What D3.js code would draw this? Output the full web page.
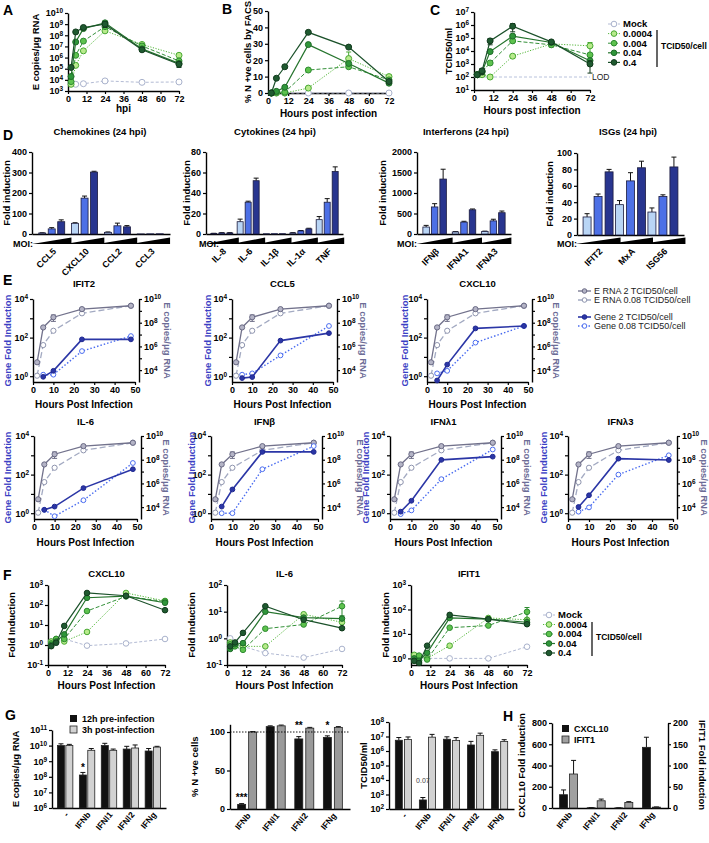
<!DOCTYPE html>
<html><head><meta charset="utf-8">
<script src="https://cdn.jsdelivr.net/npm/d3@7"></script>
<style>body{margin:0;background:#fff}svg{display:block}</style>
</head><body>
<svg id="c" width="709" height="843"></svg>
<script>
// ================= DATA =================
const hpi = [2, 5, 10, 24, 48, 72];
const moiLabels = ["Mock", "0.0004", "0.004", "0.04", "0.4"];
const xTicks72 = [0, 12, 24, 36, 48, 60, 72];
// A: E copies/ug RNA
const aMock = [5e3, 4e3, 4.5e3, 8e3, 6e3, 6.5e3];
const a00004 = [4e3, 2e5, 4e6, 2.5e8, 1.5e7, 1.6e6];
const a0004 = [7e3, 1.6e6, 3e7, 6e8, 1.1e7, 5e5];
const a004 = [2e4, 2.5e7, 4e8, 1.3e9, 6e6, 3e5];
const a04 = [1.3e5, 2e8, 5e8, 1e9, 5e6, 2.5e5];
const aErr04 = [0, 0, 1.5e8, 5e8, 0, 1.2e5];
// B: % N +ve cells
const bMock = [0, 0, 0, 0, 0, 0];
const b00004 = [0, 0, 0, 3, 21, 10];
const b0004 = [0, 0.5, 0.5, 14, 16, 8];
const b004 = [0, 1, 3.5, 29.5, 18, 6];
const b04 = [0, 9, 16, 37, 28, 7];
const bErr00004 = [0, 0, 0, 0, 4, 1];
// C: TCID50/ml
const cLOD = 100;
const c00004 = [150, 150, 100, 4e3, 3.5e4, 2.5e4];
const c0004 = [150, 250, 1.2e3, 6e4, 3e4, 5e3];
const c004 = [150, 250, 9e3, 1.4e5, 4.5e4, 1.8e3];
const c04 = [150, 300, 6e4, 8e5, 5e4, 1e3];
const cErr04 = [0, 150, 3e4, 5e5, 1.5e4, 800];
const cErr00004 = [0, 0, 0, 1e3, 1.5e4, 2e4];
// D: fold induction at 24 hpi (low, mid, high MOI)
const chemoCats = ["CCL5", "CXCL10", "CCL2", "CCL3"];
const chemoLow = [5, 52, 8, 0.5], chemoMid = [25, 175, 40, 0.8], chemoHigh = [60, 302, 35, 1];
const chemoErrLow = [1, 3, 2, 0], chemoErrMid = [6, 10, 13, 0], chemoErrHigh = [9, 4, 6, 0];
const cytoCats = ["IL-8", "IL-6", "IL-1β", "IL-1α", "TNF"];
const cytoLow = [0.5, 12, 0.3, 1, 14], cytoMid = [1, 31, 0.3, 3, 31], cytoHigh = [1, 52, 0.3, 5, 61];
const cytoErrLow = [0.2, 2.5, 0, 0.3, 3], cytoErrMid = [0.3, 1, 0, 0.4, 3.5], cytoErrHigh = [0.3, 2.5, 0, 0.6, 4.5];
const ifnCats = ["IFNβ", "IFNA1", "IFNA3"];
const ifnLow = [170, 50, 60], ifnMid = [660, 290, 320], ifnHigh = [1340, 590, 520];
const ifnErrLow = [40, 8, 10], ifnErrMid = [80, 20, 40], ifnErrHigh = [240, 20, 40];
const isgCats = ["IFIT2", "MxA", "ISG56"];
const isgLow = [22, 37, 28], isgMid = [47, 66, 47], isgHigh = [77, 82, 83];
const isgErrLow = [4, 5, 5], isgErrMid = [3, 10, 2], isgErrHigh = [3, 8, 12];
// E: time courses
const eTimes = [2, 5, 10, 24, 48];
const eRna2 = [4.6e4, 4e7, 2.9e8, 1.4e9, 2.7e9];
const eRna008 = [3.4e3, 1.3e6, 2.1e7, 6.2e8, 2.7e9];
const eRna2Err = [0, 0, 1.6e8, 3e8, 0];
const geneTimes = [5, 10, 24, 48];
const ifit2Gene2 = [0.93, 1.9, 81, 81], ifit2Gene008 = [1.2, 1.2, 20, 120];
const ccl5Gene2 = [0.8, 0.9, 70, 170], ccl5Gene008 = [1.2, 1.4, 12, 400];
const cxcl10Gene2 = [0.6, 4, 300, 400], cxcl10Gene008 = [1.4, 1.9, 55, 400];
const il6Gene2 = [1.5, 2.2, 20, 190], il6Gene008 = [1.5, 0.7, 4.7, 400];
const ifnbGene2 = [2.2, 17, 1500, 1500], ifnbGene008 = [1, 1, 190, 3000];
const ifnl1Gene2 = [1.2, 4.4, 580, 850], ifnl1Gene008 = [0.9, 1.4, 58, 2000];
const ifnl3Gene2 = [2.1, 8.5, 670, 570], ifnl3Gene008 = [1.2, 2, 100, 1000];
const eLegend = ["E RNA  2 TCID50/cell", "E RNA  0.08 TCID50/cell", "Gene  2 TCID50/cell", "Gene 0.08 TCID50/cell"];
// F: fold induction time courses
const fCxMock = [1.5, 1.3, 2, 0.93, 1.2, 2];
const fCx00004 = [1.5, 2, 1.5, 4.5, 400, 160];
const fCx0004 = [1.2, 2, 2, 50, 270, 150];
const fCx004 = [1, 1.5, 3.4, 230, 280, 130];
const fCx04 = [0.87, 1.3, 9, 400, 290, 55];
const fIl6Mock = [1.0, 0.6, 0.5, 0.28, 0.19, 0.4];
const fIl600004 = [0.7, 0.6, 0.5, 0.5, 8, 4];
const fIl60004 = [0.6, 0.5, 0.37, 2.3, 3.3, 16];
const fIl6004 = [0.4, 0.6, 0.66, 10, 6, 5.5];
const fIl604 = [0.5, 0.7, 1.6, 16, 5, 2.4];
const fIfMock = [1, 1, 1, 1, 1, 3];
const fIf00004 = [1.4, 1.2, 1.0, 3.3, 45, 38];
const fIf0004 = [0.8, 1.3, 0.9, 18, 22, 80];
const fIf004 = [1.0, 0.8, 1.7, 45, 40, 30];
const fIf04 = [0.8, 0.65, 3.3, 60, 40, 25];
// G / H
const gCats = ["-", "IFNb", "IFNl1", "IFNl2", "IFNg"];
const gEPre = [1e10, 1.3e8, 1e10, 6e9, 4.5e9], gEPost = [1e10, 5e9, 5e9, 7e9, 8e9];
const gEPreErr = [3e9, 6e7, 4e9, 3e9, 2e9], gEPostErr = [2e9, 1.5e9, 1e9, 4e9, 1e9];
const gNCats = ["IFNb", "IFNl1", "IFNl2", "IFNg"];
const gNPre = [6, 107, 91, 93], gNPost = [100, 108, 105, 106];
const gNPreErr = [1, 1, 3, 2], gNPostErr = [0.5, 1, 1, 1];
const gTPre = [5.5e6, 420, 6.5e6, 2.6e6, 9e5], gTPost = [6.3e6, 9e6, 5.4e6, 1.2e7, 4.5e6];
const gTPreErr = [3e6, 200, 3e6, 2e6, 3e5], gTPostErr = [3e6, 5e6, 3e6, 5e6, 1.5e6];
const hCats = ["IFNb", "IFNl1", "IFNl2", "IFNg"];
const hCxcl10 = [125, 2, 1, 571], hIfit1 = [80, 17, 13, 2];
const hCxErr = [45, 2, 1, 95], hIfErr = [32, 4, 2, 0.5];

// ================= DRAWING =================
const F = "'Liberation Sans', Arial, Helvetica, sans-serif";
const svg = d3.select('#c');

function txt(g, x, y, s, o = {}) {
  const t = g.append('text').attr('x', x).attr('y', y).text(s)
    .attr('font-family', F).attr('font-size', o.size || 9).attr('font-weight', o.weight || 'bold')
    .attr('fill', o.fill || '#000').attr('text-anchor', o.anchor || 'middle');
  if (o.rot != null) t.attr('transform', `rotate(${o.rot},${x},${y})`);
  return t;
}
function styleAxis(ax, fs) {
  ax.select('.domain').attr('stroke', '#000').attr('stroke-width', 1.4);
  ax.selectAll('.tick line').attr('stroke', '#000').attr('stroke-width', 1.2);
  ax.selectAll('.tick text').attr('font-family', F).attr('font-weight', 'bold').attr('font-size', fs || 9).attr('fill', '#000');
}
function supify(ax, keep) {
  ax.selectAll('.tick text').each(function (d) {
    const t = d3.select(this); const e = Math.round(Math.log10(d));
    t.text(null);
    if (keep && !keep(e)) return;
    t.append('tspan').text('10');
    t.append('tspan').attr('dy', '-0.45em').attr('font-size', '0.72em').text(e);
  });
}
function letter(x, y, s) { txt(svg, x, y, s, { size: 14, anchor: 'start' }); }

const styles = {
  "Mock":   { line: '#b3bbd4', dash: '3,2', fill: '#fff', stroke: '#a9b2cc', lw: 1 },
  "0.0004": { line: '#56b83c', dash: '1.2,1.5', fill: '#b8ea8c', stroke: '#48a832', lw: 1 },
  "0.004":  { line: '#35913a', dash: '4,2', fill: '#5ec24e', stroke: '#2d8a30', lw: 1 },
  "0.04":   { line: '#26752e', dash: null, fill: '#2f963a', stroke: '#1f6b28', lw: 1.2 },
  "0.4":    { line: '#1b512a', dash: null, fill: '#1f5a30', stroke: '#123a1d', lw: 1.2 }
};
const eStyles = [
  { line: '#72728c', dash: null, fill: '#b4b4c6', stroke: '#6a6a84', lw: 1.3 },
  { line: '#a3aac2', dash: '6,3', fill: '#fff', stroke: '#8e94ae', lw: 1.3 },
  { line: '#2b36a6', dash: null, fill: '#2b36a6', stroke: '#1f2890', lw: 1.6 },
  { line: '#4a6cf0', dash: '1.5,2', fill: '#fff', stroke: '#4a6cf0', lw: 1.4 }
];

function linePanel(c) {
  const g = svg.append('g');
  const x = d3.scaleLinear().domain(c.xd).range([c.x0, c.x1]);
  const y = (c.log ? d3.scaleLog() : d3.scaleLinear()).domain(c.yd).range([c.yb, c.yt]);
  const xa = g.append('g').attr('transform', `translate(0,${c.yb})`)
    .call(d3.axisBottom(x).tickValues(c.xticks).tickSize(3).tickSizeOuter(0).tickPadding(2));
  styleAxis(xa);
  const yAx = d3.axisLeft(y).tickValues(c.yticks).tickSize(3).tickSizeOuter(0).tickPadding(2);
  if (!c.log) yAx.tickFormat(d3.format('d'));
  const ya = g.append('g').attr('transform', `translate(${c.x0},0)`).call(yAx);
  styleAxis(ya);
  if (c.log) supify(ya, c.keep);
  if (c.title) txt(g, (c.x0 + c.x1) / 2, c.titleY, c.title, { size: 9.5 });
  if (c.xTitle) txt(g, (c.x0 + c.x1) / 2, c.xTitleY, c.xTitle, { size: 10 });
  if (c.yTitle) txt(g, c.yTitleX, (c.yt + c.yb) / 2, c.yTitle, { size: 9.5, rot: -90, fill: c.yTitleFill || '#000' });
  return { g, x, y };
}
function drawSeries(p, times, vals, st, errs, r = 3, yScale) {
  const y = yScale || p.y;
  const lo = y.domain()[0];
  const pts = times.map((t, i) => ({ t, v: vals[i], e: errs ? errs[i] : 0 })).filter(d => d.v != null);
  p.g.append('path').datum(pts)
    .attr('d', d3.line().x(d => p.x(d.t)).y(d => y(d.v)))
    .attr('fill', 'none').attr('stroke', st.line).attr('stroke-width', st.lw).attr('stroke-dasharray', st.dash);
  pts.filter(d => d.e).forEach(d => {
    const y1 = y(Math.max(d.v - d.e, lo)), y2 = y(d.v + d.e), cx = p.x(d.t);
    p.g.append('line').attr('x1', cx).attr('x2', cx).attr('y1', y1).attr('y2', y2).attr('stroke', st.stroke).attr('stroke-width', 1);
    [y1, y2].forEach(yy => p.g.append('line').attr('x1', cx - 2.5).attr('x2', cx + 2.5).attr('y1', yy).attr('y2', yy).attr('stroke', st.stroke).attr('stroke-width', 1));
  });
  p.g.selectAll(null).data(pts).enter().append('circle')
    .attr('cx', d => p.x(d.t)).attr('cy', d => y(d.v)).attr('r', r)
    .attr('fill', st.fill).attr('stroke', st.stroke).attr('stroke-width', 1);
}
function moiLegend(mx, tx, y0, dy, lineX, lineY0, lineY1, unitY) {
  moiLabels.forEach((lab, i) => {
    const st = styles[lab], yy = y0 + i * dy;
    svg.append('line').attr('x1', mx - 6).attr('x2', mx + 6).attr('y1', yy).attr('y2', yy)
      .attr('stroke', st.line).attr('stroke-width', st.lw).attr('stroke-dasharray', st.dash);
    svg.append('circle').attr('cx', mx).attr('cy', yy).attr('r', 2.8).attr('fill', st.fill).attr('stroke', st.stroke);
    txt(svg, tx, yy + 3.3, lab, { size: 9.5, anchor: 'start' });
  });
  svg.append('line').attr('x1', lineX).attr('x2', lineX).attr('y1', lineY0).attr('y2', lineY1).attr('stroke', '#000').attr('stroke-width', 1.2);
  txt(svg, lineX + 4, unitY + 3, 'TCID50/cell', { size: 8.5, anchor: 'start' });
}

// ---------- Row 1 ----------
letter(3, 15, 'A'); letter(222, 14, 'B'); letter(430, 15, 'C');
const pA = linePanel({ x0: 68, x1: 179, xd: [0, 72], xticks: xTicks72, yt: 13, yb: 91, yd: [1e3, 1e10], log: true,
  yticks: d3.range(3, 11).map(e => 10 ** e), xTitle: 'hpi', xTitleY: 112, yTitle: 'E copies/μg RNA', yTitleX: 38.5 });
const aSeries = [aMock, a00004, a0004, a004, a04];
const aErrs = [null, null, null, null, aErr04];
aSeries.forEach((v, i) => drawSeries(pA, hpi, v, styles[moiLabels[i]], aErrs[i]));

const pB = linePanel({ x0: 268, x1: 389, xd: [0, 72], xticks: xTicks72, yt: 11, yb: 93, yd: [0, 50], log: false,
  yticks: [0, 10, 20, 30, 40, 50], xTitle: 'Hours post infection', xTitleY: 117, yTitle: '% N +ve cells by FACS', yTitleX: 251 });
const bSeries = [bMock, b00004, b0004, b004, b04];
const bErrs = [null, bErr00004, null, null, null];
bSeries.forEach((v, i) => drawSeries(pB, hpi, v, styles[moiLabels[i]], bErrs[i]));

const pC = linePanel({ x0: 474, x1: 590, xd: [0, 72], xticks: xTicks72, yt: 12, yb: 90, yd: [10, 1e7], log: true,
  yticks: d3.range(1, 8).map(e => 10 ** e), xTitle: 'Hours post infection', xTitleY: 114, yTitle: 'TCID50/ml', yTitleX: 452 });
pC.g.append('line').attr('x1', pC.x(0)).attr('x2', pC.x(72)).attr('y1', pC.y(cLOD)).attr('y2', pC.y(cLOD))
  .attr('stroke', '#b8c2dc').attr('stroke-width', 1).attr('stroke-dasharray', '3,2');
txt(pC.g, pC.x(72) + 2, pC.y(cLOD) + 3, 'LOD', { size: 8.5, anchor: 'start', weight: 'normal', fill: '#222' });
const cSeries = [c00004, c0004, c004, c04];
const cErrs = [cErr00004, null, null, cErr04];
cSeries.forEach((v, i) => drawSeries(pC, hpi, v, styles[moiLabels[i + 1]], cErrs[i]));
moiLegend(614, 623, 24, 9.6, 657, 30, 67, 46);

// ---------- Row D ----------
letter(3, 140, 'D');
const barCols = ['#b9d5f5', '#4d70e6', '#28358f'];
function barPanel(c) {
  const g = svg.append('g');
  const xb = d3.scaleBand().domain(c.cats).range([c.x0, c.x1]).paddingInner(0).paddingOuter(c.po);
  const y = d3.scaleLinear().domain(c.yd).range([c.yb, c.yt]);
  const ya = g.append('g').attr('transform', `translate(${c.x0},0)`)
    .call(d3.axisLeft(y).tickValues(c.yticks).tickSize(3).tickSizeOuter(0).tickPadding(2).tickFormat(d3.format('d')));
  styleAxis(ya);
  const xa = g.append('g').attr('transform', `translate(0,${c.yb})`)
    .call(d3.axisBottom(xb).tickSize(0).tickSizeOuter(0).tickFormat(''));
  styleAxis(xa);
  c.series.forEach((vals, j) => {
    c.cats.forEach((cat, i) => {
      const cx = xb(cat) + xb.bandwidth() / 2 + (j - 1) * c.step;
      const v = vals[i], e = c.errs[j][i];
      if (e) {
        g.append('line').attr('x1', cx).attr('x2', cx).attr('y1', y(v)).attr('y2', y(v + e)).attr('stroke', '#111').attr('stroke-width', 1);
        g.append('line').attr('x1', cx - 2.5).attr('x2', cx + 2.5).attr('y1', y(v + e)).attr('y2', y(v + e)).attr('stroke', '#111').attr('stroke-width', 1);
      }
      g.append('rect').attr('x', cx - c.w / 2).attr('y', y(v)).attr('width', c.w).attr('height', c.yb - y(v))
        .attr('fill', barCols[j]).attr('stroke', '#1b1b3d').attr('stroke-width', 0.8);
    });
  });
  // MOI wedges
  txt(g, c.moiX, 247, 'MOI:', { size: 9, anchor: 'end' });
  c.cats.forEach(cat => {
    const cx = xb(cat) + xb.bandwidth() / 2, half = c.step * 1.5 + c.w / 2 + 2;
    g.append('path').attr('d', `M${cx - half},244 L${cx + half},237.5 L${cx + half},244 Z`).attr('fill', '#000');
    txt(g, cx + 5, 252, cat, { size: 9, anchor: 'end', rot: -45 });
  });
  txt(g, c.titleX, 135, c.title, { size: 9.5 });
  txt(g, c.yTitleX, (c.yt + c.yb) / 2, 'Fold induction', { size: 9.5, rot: -90 });
}
barPanel({ cats: chemoCats, x0: 32, x1: 170, po: 0.1, yt: 152, yb: 234, yd: [0, 400], yticks: [0, 100, 200, 300, 400],
  series: [chemoLow, chemoMid, chemoHigh], errs: [chemoErrLow, chemoErrMid, chemoErrHigh], w: 7, step: 9.5,
  moiX: 33, title: 'Chemokines (24 hpi)', titleX: 100, yTitleX: 10 });
barPanel({ cats: cytoCats, x0: 206, x1: 343, po: 0.1, yt: 152, yb: 234, yd: [0, 80], yticks: [0, 20, 40, 60, 80],
  series: [cytoLow, cytoMid, cytoHigh], errs: [cytoErrLow, cytoErrMid, cytoErrHigh], w: 6, step: 8,
  moiX: 219, title: 'Cytokines (24 hpi)', titleX: 275, yTitleX: 190 });
barPanel({ cats: ifnCats, x0: 417, x1: 511, po: 0.1, yt: 152, yb: 234, yd: [0, 2000], yticks: [0, 500, 1000, 1500, 2000],
  series: [ifnLow, ifnMid, ifnHigh], errs: [ifnErrLow, ifnErrMid, ifnErrHigh], w: 6.5, step: 8.5,
  moiX: 417, title: 'Interferons (24 hpi)', titleX: 466, yTitleX: 386 });
barPanel({ cats: isgCats, x0: 577, x1: 684, po: 0.15, yt: 153, yb: 235, yd: [0, 100], yticks: [0, 20, 40, 60, 80, 100],
  series: [isgLow, isgMid, isgHigh], errs: [isgErrLow, isgErrMid, isgErrHigh], w: 8, step: 11,
  moiX: 577, title: 'ISGs  (24 hpi)', titleX: 628, yTitleX: 553 });

// ---------- Row E ----------
letter(3, 285, 'E');
function ePanel(c) {
  const p = linePanel({ x0: c.x0, x1: c.x1, xd: [0, 50], xticks: [0, 10, 20, 30, 40, 50], yt: c.yt, yb: c.yb,
    yd: [10 ** -0.3, 1e4], log: true, yticks: [1, 10, 100, 1000, 10000], keep: e => e % 2 === 0,
    title: c.title, titleY: c.titleY, xTitle: 'Hours Post Infection', xTitleY: c.xTitleY,
    yTitle: 'Gene Fold Induction', yTitleX: c.lx, yTitleFill: '#3b3fc4' });
  const yR = d3.scaleLog().domain([1e3, 1e10]).range([c.yb, c.yt]);
  const ra = p.g.append('g').attr('transform', `translate(${c.x1 + 4},0)`)
    .call(d3.axisRight(yR).tickValues(d3.range(4, 11).map(e => 10 ** e)).tickSize(3).tickSizeOuter(0).tickPadding(2));
  styleAxis(ra);
  supify(ra, e => e % 2 === 0);
  txt(p.g, c.rx, (c.yt + c.yb) / 2, 'E copies/μg RNA', { size: 9.5, rot: 90, fill: '#6c6c96' });
  drawSeries(p, eTimes, eRna008, eStyles[1], null, 2.6, yR);
  drawSeries(p, eTimes, eRna2, eStyles[0], eRna2Err, 2.6, yR);
  drawSeries(p, geneTimes, c.g8, eStyles[3], null, 2.4);
  drawSeries(p, geneTimes, c.g2, eStyles[2], null, 2.4);
}
const r1 = { yt: 299, yb: 382, titleY: 287, xTitleY: 408 };
const r2 = { yt: 436, yb: 519, titleY: 425, xTitleY: 546 };
ePanel({ ...r1, x0: 33, x1: 135, title: 'IFIT2', g2: ifit2Gene2, g8: ifit2Gene008, lx: 11, rx: 164 });
ePanel({ ...r1, x0: 232, x1: 333, title: 'CCL5', g2: ccl5Gene2, g8: ccl5Gene008, lx: 211, rx: 360 });
ePanel({ ...r1, x0: 427, x1: 528, title: 'CXCL10', g2: cxcl10Gene2, g8: cxcl10Gene008, lx: 408, rx: 553 });
ePanel({ ...r2, x0: 34, x1: 137, title: 'IL-6', g2: il6Gene2, g8: il6Gene008, lx: 11, rx: 163 });
ePanel({ ...r2, x0: 211, x1: 318, title: 'IFNβ', g2: ifnbGene2, g8: ifnbGene008, lx: 195, rx: 357 });
ePanel({ ...r2, x0: 390, x1: 497, title: 'IFNλ1', g2: ifnl1Gene2, g8: ifnl1Gene008, lx: 369, rx: 524 });
ePanel({ ...r2, x0: 568, x1: 673, title: 'IFNλ3', g2: ifnl3Gene2, g8: ifnl3Gene008, lx: 547, rx: 701 });
// E legend
[291, 300, 317, 326].forEach((yy, i) => {
  const st = eStyles[i];
  svg.append('line').attr('x1', 578).attr('x2', 591).attr('y1', yy).attr('y2', yy).attr('stroke', st.line).attr('stroke-width', st.lw).attr('stroke-dasharray', st.dash);
  svg.append('circle').attr('cx', 584.5).attr('cy', yy).attr('r', 2.3).attr('fill', st.fill).attr('stroke', st.stroke);
  txt(svg, 594, yy + 3.2, eLegend[i], { size: 9, anchor: 'start', weight: 'normal', fill: '#222' });
});

// ---------- Row F ----------
letter(3, 580, 'F');
function fPanel(c, data) {
  const p = linePanel({ x0: c.x0, x1: c.x1, xd: [0, 72], xticks: xTicks72, yt: 585, yb: 665, yd: c.yd, log: true,
    yticks: c.yticks, title: c.title, titleY: 577, xTitle: 'Hours Post Infection', xTitleY: 689,
    yTitle: 'Fold Induction', yTitleX: c.lx });
  data.forEach((v, i) => drawSeries(p, hpi, v, styles[moiLabels[i]], c.errs ? c.errs[i] : null, 2.8));
}
fPanel({ x0: 48, x1: 165, yd: [0.1, 1000], yticks: [0.1, 1, 10, 100, 1000], title: 'CXCL10', lx: 15 },
  [fCxMock, fCx00004, fCx0004, fCx004, fCx04]);
fPanel({ x0: 227, x1: 342, yd: [0.1, 100], yticks: [0.1, 1, 10, 100], title: 'IL-6', lx: 195,
  errs: [null, null, [0, 0, 0, 0, 0, 9], null, null] },
  [fIl6Mock, fIl600004, fIl60004, fIl6004, fIl604]);
fPanel({ x0: 411, x1: 527, yd: [10 ** -0.27, 1000], yticks: [1, 10, 100, 1000], title: 'IFIT1', lx: 389,
  errs: [null, null, [0, 0, 0, 0, 0, 40], null, null] },
  [fIfMock, fIf00004, fIf0004, fIf004, fIf04]);
moiLegend(549, 558, 615, 9.5, 592, 622, 656, 637);

// ---------- Row G / H ----------
letter(5, 720, 'G'); letter(503, 721, 'H');
function pairPanel(c) {
  const g = svg.append('g');
  const xb = d3.scaleBand().domain(c.cats).range([c.x0, c.x1]).paddingInner(0).paddingOuter(c.po || 0.1);
  const y = (c.log ? d3.scaleLog() : d3.scaleLinear()).domain(c.yd).range([c.yb, c.yt]);
  const yAx = d3.axisLeft(y).tickValues(c.yticks).tickSize(3).tickSizeOuter(0).tickPadding(2);
  if (!c.log) yAx.tickFormat(d3.format('d'));
  const ya = g.append('g').attr('transform', `translate(${c.x0},0)`).call(yAx);
  styleAxis(ya);
  if (c.log) supify(ya);
  const xa = g.append('g').attr('transform', `translate(0,${c.yb})`).call(d3.axisBottom(xb).tickSize(0).tickSizeOuter(0).tickFormat(''));
  styleAxis(xa);
  c.series.forEach((s, j) => {
    const ys = j === 1 && c.yR ? c.yR : y;
    const lo = ys.domain()[0];
    c.cats.forEach((cat, i) => {
      const cx = xb(cat) + xb.bandwidth() / 2 + (j === 0 ? -c.off : c.off);
      const v = s.vals[i], e = s.errs[i];
      if (e) {
        const yTop = ys(v + e);
        g.append('line').attr('x1', cx).attr('x2', cx).attr('y1', ys(v)).attr('y2', yTop).attr('stroke', '#111').attr('stroke-width', 1);
        g.append('line').attr('x1', cx - 2.5).attr('x2', cx + 2.5).attr('y1', yTop).attr('y2', yTop).attr('stroke', '#111').attr('stroke-width', 1);
      }
      g.append('rect').attr('x', cx - c.w / 2).attr('y', ys(v)).attr('width', c.w).attr('height', ys(lo) - ys(v))
        .attr('fill', s.fill).attr('stroke', '#222').attr('stroke-width', 0.8);
    });
  });
  c.cats.forEach(cat => {
    const cx = xb(cat) + xb.bandwidth() / 2;
    txt(g, cx + 4, c.yb + 7, cat, { size: 8.5, anchor: 'end', rot: -50 });
  });
  if (c.yTitle) txt(g, c.yTitleX, (c.yt + c.yb) / 2, c.yTitle, { size: 9.5, rot: -90 });
  return { g, xb, y };
}
const pG1 = pairPanel({ cats: gCats, x0: 52, x1: 166, yt: 730, yb: 808, yd: [1e6, 1e11], log: true, yticks: d3.range(6, 12).map(e => 10 ** e),
  series: [{ vals: gEPre, errs: gEPreErr, fill: '#111' }, { vals: gEPost, errs: gEPostErr, fill: '#d2d2d2' }],
  w: 7, off: 4.2, yTitle: 'E copies/μg RNA', yTitleX: 19 });
// legend G
svg.append('rect').attr('x', 70).attr('y', 715).attr('width', 7).attr('height', 7).attr('fill', '#111');
svg.append('rect').attr('x', 70).attr('y', 726).attr('width', 7).attr('height', 7).attr('fill', '#d2d2d2').attr('stroke', '#222').attr('stroke-width', 0.8);
txt(svg, 82, 722, '12h pre-infection', { size: 9, anchor: 'start' });
txt(svg, 82, 733, '3h post-infection', { size: 9, anchor: 'start' });
const pG2 = pairPanel({ cats: gNCats, x0: 230, x1: 350, yt: 724.3, yb: 809, yd: [0, 110], yticks: [0, 50, 100],
  series: [{ vals: gNPre, errs: gNPreErr, fill: '#111' }, { vals: gNPost, errs: gNPostErr, fill: '#9a9a9a' }],
  w: 8, off: 5.5, yTitle: '% N +ve cells', yTitleX: 198 });
pG2.g.append('line').attr('x1', 230).attr('x2', 350).attr('y1', pG2.y(100)).attr('y2', pG2.y(100)).attr('stroke', '#000').attr('stroke-width', 0.9).attr('stroke-dasharray', '1.5,1.5');
const pG3 = pairPanel({ cats: gCats, x0: 389, x1: 514, yt: 722, yb: 809, yd: [1e2, 1e8], log: true, yticks: d3.range(2, 9).map(e => 10 ** e),
  series: [{ vals: gTPre, errs: gTPreErr, fill: '#111' }, { vals: gTPost, errs: gTPostErr, fill: '#d2d2d2' }],
  w: 7, off: 4.6, yTitle: 'TCID50/ml', yTitleX: 367 });
// H (dual axis)
const hYR = d3.scaleLinear().domain([0, 200]).range([808, 723]);
const pH = pairPanel({ cats: hCats, x0: 552, x1: 668, yt: 723, yb: 808, yd: [0, 800], yticks: [0, 200, 400, 600, 800], yR: hYR,
  series: [{ vals: hCxcl10, errs: hCxErr, fill: '#111' }, { vals: hIfit1, errs: hIfErr, fill: '#a0a0a0' }],
  w: 8, off: 5, yTitle: 'CXCL10 Fold induction', yTitleX: 525 });
const hra = pH.g.append('g').attr('transform', 'translate(668,0)').call(d3.axisRight(hYR).tickValues([0, 50, 100, 150, 200]).tickSize(3).tickSizeOuter(0).tickPadding(2));
styleAxis(hra);
txt(pH.g, 699, 765, 'IFIT1 Fold induction', { size: 9.5, rot: 90 });
svg.append('rect').attr('x', 562).attr('y', 725).attr('width', 7).attr('height', 7).attr('fill', '#111');
svg.append('rect').attr('x', 562).attr('y', 736).attr('width', 7).attr('height', 7).attr('fill', '#a0a0a0').attr('stroke', '#222').attr('stroke-width', 0.8);
txt(svg, 574, 732, 'CXCL10', { size: 9, anchor: 'start' });
txt(svg, 574, 743, 'IFIT1', { size: 9, anchor: 'start' });
// annotations
const gx = (p, cat, j, off) => p.xb(cat) + p.xb.bandwidth() / 2 + (j === 0 ? -off : off);
txt(svg, gx(pG1, 'IFNb', 0, 4.2), pG1.y(gEPre[1] + gEPreErr[1]) - 1, '*', { size: 10 });
txt(svg, gx(pG2, 'IFNb', 0, 5.5), 801, '***', { size: 10 });
txt(svg, gx(pG2, 'IFNl2', 0, 5.5), 729, '**', { size: 10 });
txt(svg, gx(pG2, 'IFNg', 0, 5.5), 729, '*', { size: 10 });
txt(svg, gx(pG3, 'IFNb', 0, 4.6), 783, '0.07', { size: 7, weight: 'normal', fill: '#444' });
</script>
</body></html>
